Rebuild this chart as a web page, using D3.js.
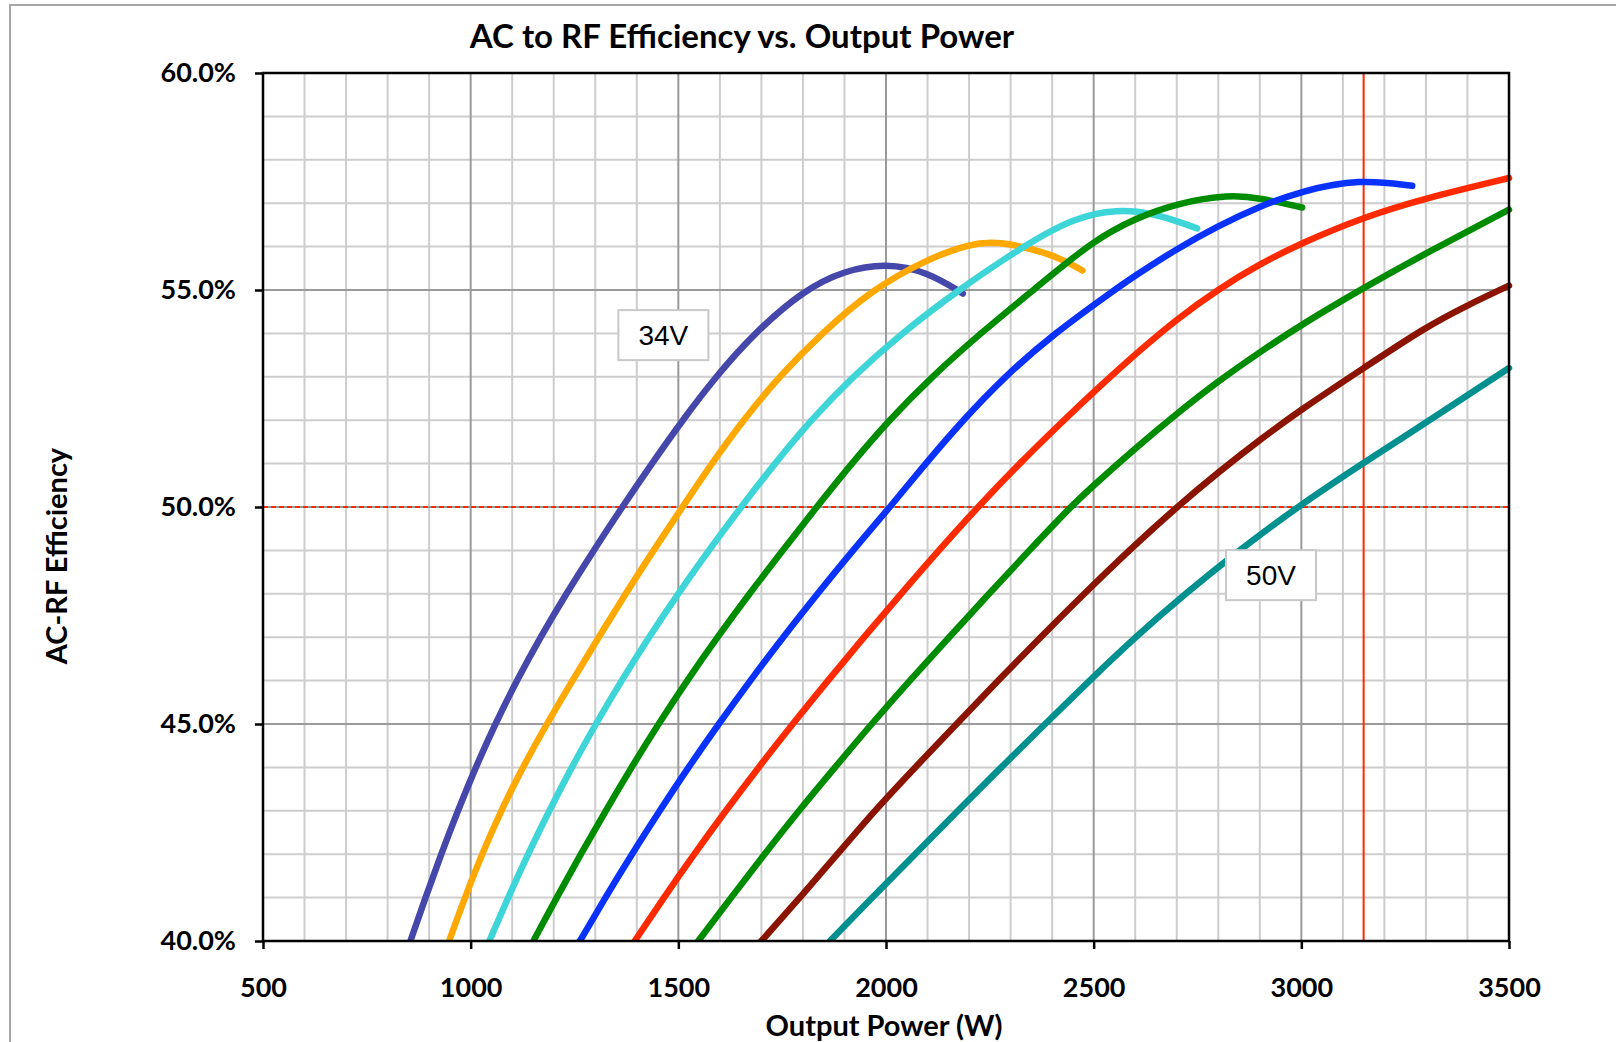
<!DOCTYPE html>
<html>
<head>
<script src="https://d3js.org/d3.v7.min.js"></script>
<style>
    body { margin: 0; background: #fff; }
    svg { display: block; }
    .bold { font-family: Lato, 'Open Sans', sans-serif; font-weight: bold; fill: #000; }
    .tick text { font-family: Lato, sans-serif; font-weight: bold; font-size: 27px; fill: #000; }
    .tick line { stroke: #000; stroke-width: 2.5px; }
    .minor { stroke: #cdcdcd; stroke-width: 2px; }
    .major { stroke: #9a9a9a; stroke-width: 2px; }
    .curve { fill: none; stroke-width: 6.5px; stroke-linecap: round; stroke-linejoin: round; }
    .tag rect { fill: #fff; stroke: #c8c8c8; stroke-width: 2px; }
    .tag text { font-family: 'Liberation Sans', Arial, sans-serif; font-size: 28px; fill: #000; }
</style>
</head>
<body>
<script>
// series: [output power W, AC-RF efficiency %]
const s34 = [[855,40],[891,41],[929,42],[969,43],[1012,44],[1059,45],[1111,46],[1168,47],[1230,48],[1296,49],[1365,50],[1436,51],[1510,52],[1590,53],[1682,54],[1802,55],[1900,55.45],[2000,55.62],[2100,55.42],[2185,54.92]];
const s36 = [[948,40],[986,41],[1027,42],[1073,43],[1125,44],[1183,45],[1245,46],[1308,47],[1373,48],[1440,49],[1510,50],[1580,51],[1656,52],[1742,53],[1845,54],[1965,55],[2100,55.72],[2200,56.05],[2265,56.14],[2400,55.84],[2473,55.45]];
const s38 = [[1045,40],[1090,41],[1138,42],[1189,43],[1243,44],[1301,45],[1363,46],[1429,47],[1499,48],[1573,49],[1651,50],[1732,51],[1819,52],[1919,53],[2037,54],[2174,55],[2329,56],[2450,56.66],[2557,56.87],[2650,56.76],[2749,56.42]];
const s40 = [[1151,40],[1207,41],[1265,42],[1325,43],[1387,44],[1452,45],[1521,46],[1594,47],[1671,48],[1751,49],[1833,50],[1917,51],[2007,52],[2110,53],[2227,54],[2355,55],[2500,56.15],[2600,56.65],[2700,57.0],[2828,57.2],[2900,57.12],[3002,56.9]];
const s42 = [[1263,40],[1324,41],[1388,42],[1455,43],[1524,44],[1597,45],[1673,46],[1752,47],[1835,48],[1920,49],[2010,50],[2095,51],[2185,52],[2285,53],[2405,54],[2550,55],[2600,55.33],[2700,55.95],[2800,56.48],[2900,56.93],[3000,57.28],[3140,57.56],[3267,57.4]];
const s44 = [[1395,40],[1465,41],[1538,42],[1614,43],[1693,44],[1775,45],[1860,46],[1947,47],[2036,48],[2127,49],[2221,50],[2321,51],[2428,52],[2500,52.65],[2600,53.52],[2700,54.33],[2800,55.02],[2900,55.6],[3000,56.08],[3150,56.68],[3300,57.12],[3500,57.58]];
const s46 = [[1548,40],[1627,41],[1707,42],[1790,43],[1877,44],[1965,45],[2057,46],[2152,47],[2248,48],[2345,49],[2444,50],[2500,50.5],[2600,51.35],[2700,52.15],[2800,52.9],[2900,53.57],[3000,54.2],[3150,55.05],[3300,55.85],[3500,56.85]];
const s48 = [[1700,40],[1793,41],[1883,42],[1972,43],[2070,44],[2170,45],[2270,46],[2372,47],[2477,48],[2585,49],[2700,50],[2800,50.8],[2900,51.55],[3000,52.25],[3150,53.2],[3300,54.15],[3400,54.65],[3500,55.1]];
const s50 = [[1865,40],[1967,41],[2070,42],[2173,43],[2277,44],[2383,45],[2490,46],[2600,47],[2720,48],[2850,49],[2990,50],[3150,51.02],[3309,52],[3468,53],[3500,53.2]];

const series = [s34, s36, s38, s40, s42, s44, s46, s48, s50];
const colors = ['#4548aa', '#ffa800', '#3dd5d8', '#008c00', '#0a32ff', '#ff2a00', '#008c00', '#8b1400', '#009090'];

const xTicks = [500, 1000, 1500, 2000, 2500, 3000, 3500];
const yTicks = [40, 45, 50, 55, 60];
const markerPower = 3150;   // red vertical
const markerEff = 50;       // red dashed horizontal
const tags = [{ text: '34V', p: 1464, e: 53.96 }, { text: '50V', p: 2927, e: 48.43 }];

const width = 1616, height = 1042;
const m = { left: 263, right: 1509, top: 73, bottom: 941 };

const svg = d3.select('body').append('svg').attr('width', width).attr('height', height);

const x = d3.scaleLinear().domain([500, 3500]).range([m.left, m.right]);
const y = d3.scaleLinear().domain([40, 60]).range([m.bottom, m.top]);

// outer chart border
svg.append('rect').attr('x', 10).attr('y', 5).attr('width', 1700).attr('height', 1200)
    .attr('fill', 'none').attr('stroke', '#a6a6a6').attr('stroke-width', 2);

// grid
const grid = svg.append('g');
const xMinor = d3.range(600, 3500, 100).filter((v) => v % 500 !== 0);
const yMinor = d3.range(41, 60, 1).filter((v) => v % 5 !== 0);
grid.selectAll('.xm').data(xMinor).enter().append('line').attr('class', 'minor')
    .attr('x1', (d) => x(d)).attr('x2', (d) => x(d)).attr('y1', m.top).attr('y2', m.bottom);
grid.selectAll('.ym').data(yMinor).enter().append('line').attr('class', 'minor')
    .attr('x1', m.left).attr('x2', m.right).attr('y1', (d) => y(d)).attr('y2', (d) => y(d));
grid.selectAll('.xM').data(xTicks.slice(1, -1)).enter().append('line').attr('class', 'major')
    .attr('x1', (d) => x(d)).attr('x2', (d) => x(d)).attr('y1', m.top).attr('y2', m.bottom);
grid.selectAll('.yM').data(yTicks.slice(1, -1)).enter().append('line').attr('class', 'major')
    .attr('x1', m.left).attr('x2', m.right).attr('y1', (d) => y(d)).attr('y2', (d) => y(d));

// reference lines
svg.append('line').attr('x1', x(markerPower)).attr('x2', x(markerPower)).attr('y1', m.top).attr('y2', m.bottom)
    .attr('stroke', '#ff2a00').attr('stroke-width', 2);
svg.append('line').attr('x1', m.left).attr('x2', m.right).attr('y1', y(markerEff)).attr('y2', y(markerEff))
    .attr('stroke', '#ff2a00').attr('stroke-width', 2).attr('stroke-dasharray', '5,3');

// curves
svg.append('clipPath').attr('id', 'plot').append('rect')
    .attr('x', m.left - 10).attr('y', m.top - 10).attr('width', m.right - m.left + 14).attr('height', m.bottom - m.top + 10);
const line = d3.line().x((d) => x(d[0])).y((d) => y(d[1])).curve(d3.curveBasis);
svg.append('g').attr('clip-path', 'url(#plot)')
    .selectAll('path').data(series).enter().append('path')
    .attr('class', 'curve').attr('stroke', (d, i) => colors[i]).attr('d', line);

// plot frame
svg.append('rect').attr('x', m.left).attr('y', m.top).attr('width', m.right - m.left).attr('height', m.bottom - m.top)
    .attr('fill', 'none').attr('stroke', '#000').attr('stroke-width', 2.5);

// axes
const xAxis = svg.append('g').attr('transform', `translate(0,${m.bottom})`)
    .call(d3.axisBottom(x).tickValues(xTicks).tickSize(8).tickPadding(29).tickFormat(d3.format('d')));
xAxis.select('.domain').remove();
const yAxis = svg.append('g').attr('transform', `translate(${m.left},0)`)
    .call(d3.axisLeft(y).tickValues(yTicks).tickSize(8).tickPadding(19).tickFormat((d) => d.toFixed(1) + '%'));
yAxis.select('.domain').remove();

// tags
tags.forEach((t) => {
    const g = svg.append('g').attr('class', 'tag').attr('transform', `translate(${x(t.p)},${y(t.e)})`);
    g.append('rect').attr('x', -45).attr('y', -25).attr('width', 90).attr('height', 50);
    g.append('text').attr('text-anchor', 'middle').attr('y', 10).text(t.text);
});

// titles
svg.append('text').attr('class', 'bold').attr('x', 742).attr('y', 48).attr('text-anchor', 'middle')
    .style('font-size', '33px').text('AC to RF Efficiency vs. Output Power');
svg.append('text').attr('class', 'bold').attr('x', 884).attr('y', 1036).attr('text-anchor', 'middle')
    .style('font-size', '29px').text('Output Power (W)');
svg.append('text').attr('class', 'bold').attr('transform', 'translate(67,556) rotate(-90)').attr('text-anchor', 'middle')
    .style('font-size', '29px').text('AC-RF Efficiency');
</script>
</body>
</html>
